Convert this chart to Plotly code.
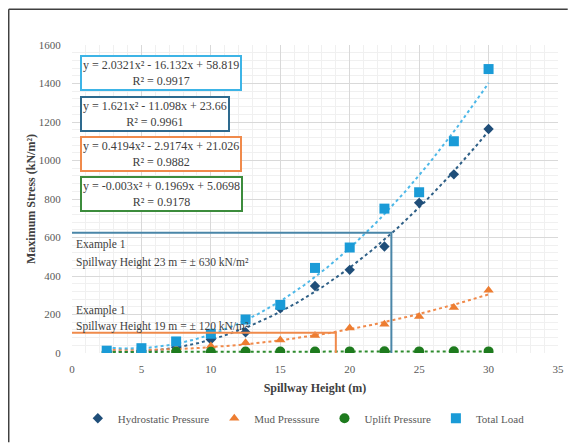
import numpy as np
import plotly.graph_objects as go

heights = [2.5, 5, 7.5, 10, 12.5, 15, 17.5, 20, 22.5, 25, 27.5, 30]
hydrostatic = [5, 12, 30, 70, 108, 232, 348, 432, 553, 780, 928, 1164]
mud = [10, 15, 22, 36, 53, 67, 91, 130, 150, 190, 236, 326]
uplift = [5.5, 6.0, 6.4, 6.8, 7.4, 7.8, 8.0, 8.3, 8.5, 8.4, 8.6, 8.4]
total = [12, 25, 60, 100, 174, 250, 442, 548, 750, 835, 1100, 1475]

series = [
    ("Hydrostatic Pressure", hydrostatic, "#1F4E79", "#2E5F86", "diamond", 8),
    ("Mud Presssure", mud, "#ED7D31", "#F08A4B", "triangle-up", 9),
    ("Uplift Pressure", uplift, "#1E7B1E", "#2E8B2E", "circle", 10),
    ("Total Load", total, "#1A9BD7", "#4DB8E8", "square", 10),
]

equations = [
    ("y = 2.0321x² - 16.132x + 58.819<br>R² = 0.9917", "#3DB4E6", 1549),
    ("y = 1.621x² - 11.098x + 23.66<br>R² = 0.9961", "#2E6A8E", 1333),
    ("y = 0.4194x² - 2.9174x + 21.026<br>R² = 0.9882", "#F08A4B", 1128),
    ("y = -0.003x² + 0.1969x + 5.0698<br>R² = 0.9178", "#3C8C3C", 918),
]

example_a = (23, 625)
example_b = (19, 105)
example_texts = [
    ("Example 1", 566),
    ("Spillway Height 23 m = ± 630 kN/m²", 472),
    ("Example 1", 222),
    ("Spillway Height 19 m = ± 120 kN/m²", 138),
]

FONT = "Liberation Serif"
fig = go.Figure()

xs = np.linspace(min(heights), max(heights), 200)
for name, vals, mcol, lcol, sym, size in series:
    coef = np.polyfit(heights, vals, 2)
    fig.add_trace(go.Scatter(x=xs, y=np.polyval(coef, xs), mode="lines",
                             line=dict(color=lcol, width=2, dash="dot"),
                             showlegend=False, hoverinfo="skip"))

for name, vals, mcol, lcol, sym, size in series:
    fig.add_trace(go.Scatter(x=heights, y=vals, mode="markers", name=name,
                             marker=dict(color=mcol, symbol=sym, size=size)))

# example reference lines
fig.add_trace(go.Scatter(x=[0, example_a[0], example_a[0]], y=[example_a[1], example_a[1], 0],
                         mode="lines", line=dict(color="#4A86A8", width=2),
                         showlegend=False, hoverinfo="skip"))
fig.add_trace(go.Scatter(x=[0, example_b[0], example_b[0]], y=[example_b[1], example_b[1], 0],
                         mode="lines", line=dict(color="#F08A4B", width=2),
                         showlegend=False, hoverinfo="skip"))

for text, col, ytop in equations:
    fig.add_annotation(x=0.58, y=ytop, xref="x", yref="y", xanchor="left", yanchor="top",
                       text=text, showarrow=False, align="center",
                       font=dict(family=FONT, size=12, color="#404040"),
                       bordercolor=col, borderwidth=2, borderpad=1, bgcolor="white")

for text, yv in example_texts:
    fig.add_annotation(x=0.15, y=yv, xref="x", yref="y", xanchor="left", yanchor="middle",
                       text=text, showarrow=False, align="left",
                       font=dict(family=FONT, size=11.5, color="#404040"))

# outer frame (top and left)
fig.add_shape(type="line", xref="paper", yref="paper", x0=-0.1302, x1=1.02, y0=1.116, y1=1.116,
              line=dict(color="#404040", width=1.5))
fig.add_shape(type="line", xref="paper", yref="paper", x0=-0.1302, x1=-0.1302, y0=1.116, y1=-0.29,
              line=dict(color="#404040", width=1.5))

fig.update_layout(
    width=574, height=437,
    margin=dict(l=64, r=24, t=37, b=88),
    paper_bgcolor="white", plot_bgcolor="white",
    font=dict(family=FONT, size=11, color="#595959"),
    legend=dict(orientation="h", x=0.477, xanchor="center", y=-0.165, yanchor="top",
                font=dict(family=FONT, size=11, color="#595959"), itemwidth=30,
                traceorder="normal", tracegroupgap=0),
    xaxis=dict(range=[0, 35], dtick=5, showgrid=True, gridcolor="#D9D9D9", zeroline=False,
               showline=False, ticks="outside", ticklen=6, tickcolor="rgba(0,0,0,0)",
               automargin=False,
               minor=dict(dtick=1, showgrid=True, gridcolor="#F0F0F0"),
               title=dict(text="<b>Spillway Height (m)</b>", standoff=9,
                          font=dict(family=FONT, size=12, color="#404040"))),
    yaxis=dict(range=[0, 1600], dtick=200, showgrid=True, gridcolor="#D9D9D9", zeroline=False,
               showline=False, ticks="outside", ticklen=8, tickcolor="rgba(0,0,0,0)",
               automargin=False,
               minor=dict(dtick=40, showgrid=True, gridcolor="#F0F0F0"),
               title=dict(text="<b>Maximum Stress (kN/m²)</b>", standoff=0,
                          font=dict(family=FONT, size=12, color="#404040"))),
)

fig.write_html("out.html")
